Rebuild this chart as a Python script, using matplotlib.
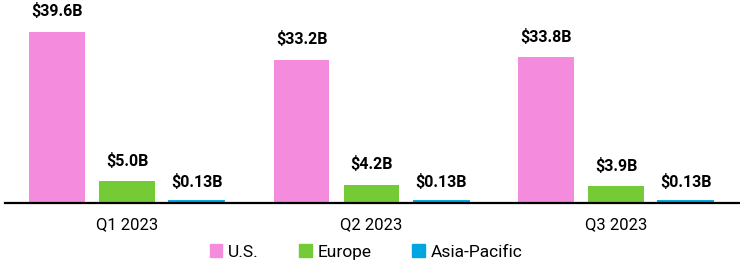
import numpy as np
import matplotlib.pyplot as plt
from matplotlib.patches import Patch

plt.rcParams['font.family'] = ['Roboto', 'DejaVu Sans']

quarters = ["Q1 2023", "Q2 2023", "Q3 2023"]
regions = ["U.S.", "Europe", "Asia-Pacific"]
us = [39.6, 33.2, 33.8]
europe = [5.0, 4.2, 3.9]
asia = [0.13, 0.13, 0.13]
labels = [
    ["$39.6B", "$33.2B", "$33.8B"],
    ["$5.0B", "$4.2B", "$3.9B"],
    ["$0.13B", "$0.13B", "$0.13B"],
]
colors = ["#F58BDC", "#74CB35", "#00A6E0"]

fig = plt.figure(figsize=(7.4, 2.64), dpi=100)
ax = fig.add_axes([5 / 740, 61 / 264, 735 / 740, 203 / 264])

x = np.arange(len(quarters))
width = 0.227
step = 0.286
series = [us, europe, asia]
for i, vals in enumerate(series):
    pos = x + (i - 1) * step
    # tiny asia bars get a thick edge so they stay visible like in the original
    lw = 2.8 if i == 2 else 0
    w = width - 0.01 if i == 2 else width
    bars = ax.bar(pos, vals, w, color=colors[i], edgecolor=colors[i], linewidth=lw)
    for b, txt in zip(bars, labels[i]):
        ax.annotate(txt, (b.get_x() + b.get_width() / 2, b.get_height()),
                    xytext=(0, 9), textcoords="offset points",
                    ha="center", va="bottom", fontsize=11.5, fontweight="bold")

ax.set_xlim(-0.499, 2.507)
ax.set_ylim(0, 47.0)
ax.set_xticks(x)
ax.set_xticklabels(quarters, fontsize=12)
ax.tick_params(axis="x", length=0, pad=10)
ax.set_yticks([])
for s in ["top", "right", "left"]:
    ax.spines[s].set_visible(False)
ax.spines["bottom"].set_linewidth(1.6)
ax.spines["bottom"].set_color("black")

handles = [Patch(color=c) for c in colors]
fig.legend(handles, regions, loc="center", bbox_to_anchor=(366 / 740, 12 / 264),
           ncol=3, frameon=False, fontsize=12.5, handlelength=0.7, handleheight=0.7,
           handletextpad=0.35, columnspacing=2.35, borderpad=0)

fig.savefig("out.png", dpi=100)
